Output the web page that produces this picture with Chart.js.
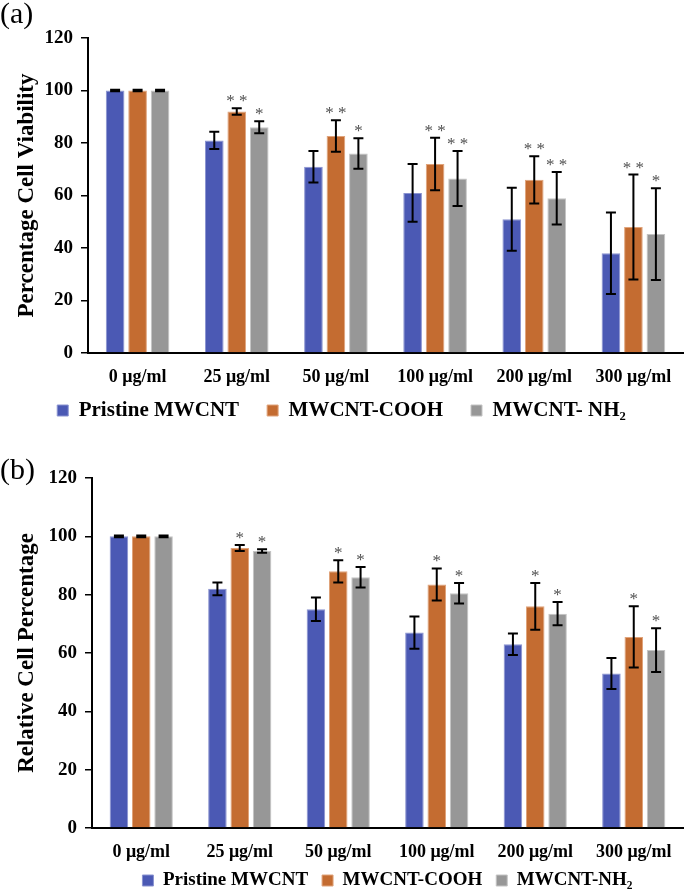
<!DOCTYPE html>
<html>
<head>
<meta charset="utf-8">
<script src="https://cdn.jsdelivr.net/npm/chart.js@4.4.0/dist/chart.umd.min.js"></script>
<style>
  body { margin: 0; background: #fff; overflow: hidden; }
  #wrap { position: relative; width: 685px; height: 891px; overflow: hidden; }
  .panel { position: absolute; left: 0; font-family: "Liberation Serif", serif; font-size: 30px; }
  #boxA { position: absolute; left: 0; top: 0; width: 685px; height: 448px; }
  #boxB { position: absolute; left: 0; top: 440px; width: 685px; height: 467px; }
</style>
</head>
<body>
<div id="wrap">
  <div id="boxA"><canvas id="chartA"></canvas></div>
  <div id="boxB"><canvas id="chartB"></canvas></div>
  <div class="panel" style="top:-4px;">(a)</div>
  <div class="panel" style="top:452px;">(b)</div>
</div>
<script>
// categories
const doses = ["0 μg/ml", "25 μg/ml", "50 μg/ml", "100 μg/ml", "200 μg/ml", "300 μg/ml"];
const yTicks = [0, 20, 40, 60, 80, 100, 120];

// (a) percentage cell viability
const viabPristine = [100, 81, 71, 61, 51, 38];
const viabCooh = [100, 92, 82.7, 72, 66, 48];
const viabNh2 = [100, 86, 76, 66.5, 59, 45.3];
const viabPristineErr = [0.3, 3.3, 6, 11, 12, 15.5];
const viabCoohErr = [0.3, 1.2, 6, 10, 9, 20];
const viabNh2Err = [0.3, 2.3, 5.8, 10.5, 10, 17.5];
const viabCoohStars = ["", "**", "**", "**", "**", "**"];
const viabNh2Stars = ["", "*", "*", "**", "**", "*"];

// (b) relative cell percentage
const relPristine = [100, 82, 75, 67, 63, 53];
const relCooh = [100, 96, 88, 83.5, 76, 65.5];
const relNh2 = [100, 95, 86, 80.5, 73.5, 61];
const relPristineErr = [0.3, 2.2, 4, 5.5, 3.7, 5.3];
const relCoohErr = [0.3, 1, 3.8, 5.5, 8, 10.5];
const relNh2Err = [0.3, 0.6, 3.5, 3.5, 4, 7.5];
const relCoohStars = ["", "*", "*", "*", "*", "*"];
const relNh2Stars = ["", "*", "*", "*", "*", "*"];

const BLUE = "#4b59b4", ORANGE = "#c46c31", GRAY = "#979797";
const serif = "'Liberation Serif', 'Times New Roman', serif";

// error bars + significance stars drawn from the bar elements and the y scale
const errorBarPlugin = {
    id: "errorBars",
    afterDatasetsDraw(chart) {
        const ctx = chart.ctx;
        const y = chart.scales.y;
        chart.data.datasets.forEach((ds, i) => {
            const meta = chart.getDatasetMeta(i);
            meta.data.forEach((bar, j) => {
                const v = ds.data[j], e = ds.errors[j];
                const top = y.getPixelForValue(v + e);
                const bot = y.getPixelForValue(v - e);
                ctx.save();
                ctx.strokeStyle = "#000";
                ctx.lineWidth = 2;
                ctx.beginPath();
                ctx.moveTo(bar.x, top); ctx.lineTo(bar.x, bot);
                ctx.moveTo(bar.x - 5, top); ctx.lineTo(bar.x + 5, top);
                ctx.moveTo(bar.x - 5, bot); ctx.lineTo(bar.x + 5, bot);
                ctx.stroke();
                const s = ds.stars ? ds.stars[j] : "";
                if (s) {
                    ctx.fillStyle = "#505050";
                    ctx.font = "17px " + serif;
                    ctx.textAlign = "center";
                    ctx.textBaseline = "alphabetic";
                    ctx.fillText(s.split("").join(" "), bar.x, top - 2);
                }
                ctx.restore();
            });
        });
    }
};

// nudge the legend row up/down after layout so tick labels keep their room
const legendShift = {
    id: "legendShift",
    afterLayout(chart, args, o) {
        chart.legend.top += o.dy;
        chart.legend.bottom += o.dy;
    }
};

function makeChart(id, opts) {
    const ctx = document.getElementById(id).getContext("2d");
    return new Chart(ctx, {
        type: "bar",
        data: {
            labels: doses,
            datasets: [
                { label: "Pristine MWCNT", data: opts.values[0], errors: opts.errors[0],
                  backgroundColor: BLUE, borderColor: "#8a93d0", borderWidth: 1 },
                { label: "MWCNT-COOH", data: opts.values[1], errors: opts.errors[1], stars: opts.stars[0],
                  backgroundColor: ORANGE, borderColor: "#e0a47c", borderWidth: 1 },
                { label: opts.nh2Label, data: opts.values[2], errors: opts.errors[2], stars: opts.stars[1],
                  backgroundColor: GRAY, borderColor: "#c4c4c4", borderWidth: 1 }
            ]
        },
        options: {
            responsive: true,
            maintainAspectRatio: false,
            animation: false,
            layout: { padding: { top: 38, right: 2, left: 0, bottom: 0 } },
            datasets: { bar: { categoryPercentage: 0.68, barPercentage: 0.83 } },
            plugins: {
                legend: {
                    position: "bottom",
                    fullSize: opts.legendFull,
                    labels: {
                        boxWidth: 11, boxHeight: 11, padding: opts.legendPad,
                        color: "#000",
                        font: { family: serif, size: opts.legendSize, weight: "bold" }
                    }
                },
                legendShift: { dy: opts.legendDy },
                tooltip: { enabled: false }
            },
            scales: {
                x: {
                    grid: { display: false },
                    border: { display: true, color: "#000", width: 2 },
                    ticks: { color: "#000", padding: 6, maxRotation: 0,
                             font: { family: serif, size: 18, weight: "bold" } },
                    afterFit: s => { s.height = 36; }
                },
                y: {
                    min: 0, max: 120,
                    afterBuildTicks: s => { s.ticks = yTicks.map(v => ({ value: v })); },
                    grid: { drawOnChartArea: false, drawTicks: true, tickLength: 7, color: "#000", lineWidth: 1.5 },
                    border: { display: true, color: "#000", width: 2 },
                    ticks: { color: "#000", padding: 8,
                             font: { family: serif, size: 19, weight: "bold" } },
                    title: { display: true, text: opts.yTitle, color: "#000",
                             padding: { top: 13, bottom: 0 },
                             font: { family: serif, size: 23, weight: "bold" } },
                    afterFit: s => { s.width = opts.yWidth; }
                }
            }
        },
        plugins: [errorBarPlugin, legendShift]
    });
}

makeChart("chartA", {
    values: [viabPristine, viabCooh, viabNh2],
    errors: [viabPristineErr, viabCoohErr, viabNh2Err],
    stars: [viabCoohStars, viabNh2Stars],
    nh2Label: "MWCNT- NH₂",
    yTitle: "Percentage Cell Viability",
    yWidth: 88, legendPad: 28, legendSize: 21, legendFull: true, legendDy: -17
});

makeChart("chartB", {
    values: [relPristine, relCooh, relNh2],
    errors: [relPristineErr, relCoohErr, relNh2Err],
    stars: [relCoohStars, relNh2Stars],
    nh2Label: "MWCNT-NH₂",
    yTitle: "Relative Cell Percentage",
    yWidth: 92, legendPad: 14, legendSize: 19, legendFull: false, legendDy: -7
});
</script>
</body>
</html>
